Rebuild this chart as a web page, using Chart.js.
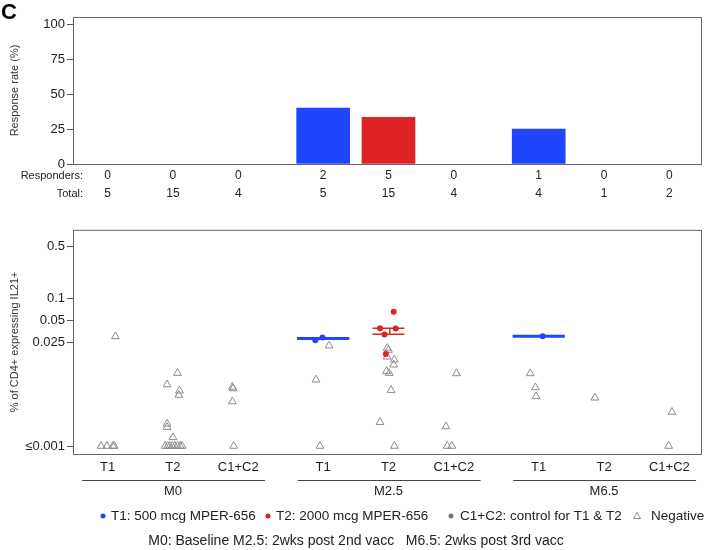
<!DOCTYPE html>
<html>
<head>
<meta charset="utf-8">
<script src="https://cdn.jsdelivr.net/npm/chart.js@4.4.0/dist/chart.umd.min.js"></script>
<style>
  body { margin: 0; background: #fff; }
  #wrap { position: relative; width: 720px; height: 550px; }
  canvas { position: absolute; left: 0; }
</style>
</head>
<body>
<div id="wrap">
  <canvas id="rateChart" width="720" height="220" style="top:0"></canvas>
  <canvas id="ilChart" width="720" height="330" style="top:220px"></canvas>
</div>
<script>
const groups = ["M0", "M2.5", "M6.5"];
const arms = ["T1", "T2", "C1+C2"];
const xPos = [0, 1, 2, 3.3, 4.3, 5.3, 6.6, 7.6, 8.6];
const responders = [0, 0, 0, 2, 5, 0, 1, 0, 0];
const totals = [5, 15, 4, 5, 15, 4, 4, 1, 2];
const responseRate = [0, 0, 0, 40, 33.3, 0, 25, 0, 0];
const rateTicks = [0, 25, 50, 75, 100];
const ilTicks = [0.001, 0.025, 0.05, 0.1, 0.5];
const ilTickLabels = ["≤0.001", "0.025", "0.05", "0.1", "0.5"];

// responders (filled dots) per column, with horizontal jitter
const posVals = [[], [], [], [0.027, 0.0295], [0.0656, 0.0392, 0.0389, 0.0323, 0.0176], [], [0.0307], [], []];
const posJit = [[], [], [], [-0.12, -0.01], [0.08, -0.13, 0.11, -0.06, -0.04], [], [0.06], [], []];

// negatives (open triangles) per column
const negVals = [
  [0.001, 0.001, 0.001, 0.001, 0.0304],
  [0.0097, 0.0068, 0.0056, 0.0049, 0.002, 0.0018, 0.00131, 0.001, 0.001, 0.001, 0.001, 0.001, 0.001, 0.001, 0.001],
  [0.0063, 0.006, 0.004, 0.001],
  [0.0228, 0.0079, 0.001],
  [0.0212, 0.0199, 0.0161, 0.0147, 0.0126, 0.0103, 0.0097, 0.0057, 0.0021, 0.001],
  [0.0096, 0.00184, 0.001, 0.001],
  [0.0096, 0.0062, 0.0047],
  [0.0045],
  [0.00289, 0.001]
];
const negJit = [
  [-0.1, -0.01, 0.08, 0.1, 0.12],
  [0.07, -0.09, 0.1, 0.09, -0.09, -0.09, 0, -0.12, -0.08, -0.05, -0.01, 0.03, 0.07, 0.11, 0.14],
  [-0.09, -0.08, -0.09, -0.07],
  [0.09, -0.11, -0.05],
  [-0.02, 0, -0.02, 0.09, 0.08, -0.03, 0.01, 0.04, -0.13, 0.09],
  [0.04, -0.12, -0.1, -0.03],
  [-0.13, -0.05, -0.04],
  [-0.14],
  [0.04, -0.01]
];

// summary lines over the responders
const blueMedCols = [3, 6];
const blueMedVals = [0.0285, 0.0307];
const redCol = 4;
const redLineVals = [0.0392, 0.0325];

const BLUE = "#1f46fd";
const RED = "#dd2323";
const GREY = "#777777";
const armColors = [BLUE, RED, GREY];
const FONT = "'Liberation Sans', Arial, Helvetica, sans-serif";
Chart.defaults.font.family = FONT;
Chart.defaults.color = "#222";

const xMin = -0.53, xMax = 9.1;

function drawBox(chart) {
  const a = chart.chartArea, ctx = chart.ctx;
  ctx.save();
  ctx.strokeStyle = "#666";
  ctx.lineWidth = 1;
  ctx.strokeRect(a.left + 0.5, a.top + 0.5, a.right - a.left - 1, a.bottom - a.top);
  ctx.restore();
}

const topExtras = {
  id: "topExtras",
  afterDraw(chart) {
    const ctx = chart.ctx, x = chart.scales.x;
    drawBox(chart);
    ctx.save();
    ctx.fillStyle = "#000";
    ctx.font = "bold 22px " + FONT;
    ctx.textBaseline = "alphabetic";
    ctx.fillText("C", 1, 19);
    ctx.fillStyle = "#222";
    ctx.textBaseline = "middle";
    ctx.textAlign = "right";
    ctx.font = "11px " + FONT;
    ctx.fillText("Responders:", 83, 176);
    ctx.fillText("Total:", 83, 194);
    ctx.textAlign = "center";
    ctx.font = "12px " + FONT;
    xPos.forEach((p, i) => {
      const px = x.getPixelForValue(p);
      ctx.fillText(String(responders[i]), px, 176);
      ctx.fillText(String(totals[i]), px, 194);
    });
    ctx.restore();
  }
};

const bottomExtras = {
  id: "bottomExtras",
  afterDraw(chart) {
    const ctx = chart.ctx, x = chart.scales.x;
    drawBox(chart);
    ctx.save();
    ctx.fillStyle = "#222";
    ctx.textBaseline = "middle";
    ctx.textAlign = "center";
    ctx.font = "13px " + FONT;
    xPos.forEach((p, i) => {
      ctx.fillText(arms[i % 3], x.getPixelForValue(p), 247);
    });
    ctx.strokeStyle = "#444";
    ctx.lineWidth = 1;
    groups.forEach((g, k) => {
      const l = x.getPixelForValue(xPos[k * 3] - 0.39);
      const r = x.getPixelForValue(xPos[k * 3 + 2] + 0.41);
      ctx.beginPath();
      ctx.moveTo(l, 260.5);
      ctx.lineTo(r, 260.5);
      ctx.stroke();
      ctx.fillText(g, x.getPixelForValue(xPos[k * 3 + 1]), 271);
    });

    // legend
    const legendItems = [
      { label: "T1: 500 mcg MPER-656", color: BLUE, mx: 103, tx: 111 },
      { label: "T2: 2000 mcg MPER-656", color: RED, mx: 268, tx: 276 },
      { label: "C1+C2: control for T1 & T2", color: GREY, mx: 451, tx: 460 },
      { label: "Negative", color: null, mx: 637, tx: 651 }
    ];
    ctx.textAlign = "left";
    ctx.font = "13.5px " + FONT;
    legendItems.forEach(it => {
      if (it.color) {
        ctx.fillStyle = it.color;
        ctx.beginPath();
        ctx.arc(it.mx, 296, 2.5, 0, Math.PI * 2);
        ctx.fill();
      } else {
        ctx.strokeStyle = "#8c8c8c";
        ctx.beginPath();
        ctx.moveTo(it.mx, 292.5);
        ctx.lineTo(it.mx + 3.5, 298.5);
        ctx.lineTo(it.mx - 3.5, 298.5);
        ctx.closePath();
        ctx.stroke();
      }
      ctx.fillStyle = "#222";
      ctx.fillText(it.label, it.tx, 296);
    });

    ctx.textAlign = "center";
    ctx.font = "14px " + FONT;
    ctx.fillText("M0: Baseline M2.5: 2wks post 2nd vacc   M6.5: 2wks post 3rd vacc", 356, 321);
    ctx.restore();
  }
};

// top: response rate bars (zero-rate columns draw no bar)
new Chart(document.getElementById("rateChart"), {
  type: "bar",
  data: {
    datasets: [{
      data: xPos.map((p, i) => ({ x: p, y: responseRate[i] || null })),
      backgroundColor: xPos.map((p, i) => armColors[i % 3]),
      borderWidth: 0,
      barThickness: 53
    }]
  },
  options: {
    responsive: false,
    animation: false,
    layout: { padding: { left: 0, right: 18, top: 17, bottom: 56 } },
    plugins: { legend: { display: false }, tooltip: { enabled: false } },
    scales: {
      x: { type: "linear", min: xMin, max: xMax, offset: false, display: false },
      y: {
        min: 0,
        max: 105,
        afterBuildTicks: s => { s.ticks = rateTicks.map(v => ({ value: v })); },
        afterFit: s => { s.width = 73; },
        grid: { drawOnChartArea: false, tickLength: 6, color: "#555" },
        border: { display: false },
        ticks: { font: { size: 13 }, color: "#222", padding: 2 },
        title: {
          display: true,
          text: "Response rate (%)",
          font: { size: 11 },
          color: "#333",
          padding: { top: 8, bottom: 0 }
        }
      }
    }
  },
  plugins: [topExtras]
});

// bottom: individual responses
const negPoints = [];
negVals.forEach((vals, c) => vals.forEach((v, j) => negPoints.push({ x: xPos[c] + negJit[c][j], y: v })));
const bluePoints = [];
const redPoints = [];
posVals.forEach((vals, c) => vals.forEach((v, j) => {
  const pt = { x: xPos[c] + posJit[c][j], y: v };
  if (c % 3 === 0) bluePoints.push(pt); else redPoints.push(pt);
}));

const lineSets = [];
blueMedCols.forEach((c, k) => {
  lineSets.push({
    type: "line",
    data: [{ x: xPos[c] - 0.4, y: blueMedVals[k] }, { x: xPos[c] + 0.4, y: blueMedVals[k] }],
    borderColor: BLUE, borderWidth: 3, pointRadius: 0, order: 2
  });
});
redLineVals.forEach(v => {
  lineSets.push({
    type: "line",
    data: [{ x: xPos[redCol] - 0.245, y: v }, { x: xPos[redCol] + 0.245, y: v }],
    borderColor: RED, borderWidth: 1.5, pointRadius: 0, order: 2
  });
});
lineSets.push({
  type: "line",
  data: [{ x: xPos[redCol] + 0.02, y: redLineVals[0] }, { x: xPos[redCol] + 0.02, y: redLineVals[1] }],
  borderColor: RED, borderWidth: 1.5, pointRadius: 0, order: 2
});

new Chart(document.getElementById("ilChart"), {
  type: "scatter",
  data: {
    datasets: [
      {
        data: negPoints, pointStyle: "triangle", pointRadius: 4.5,
        borderColor: "#8c8c8c", backgroundColor: "rgba(255,255,255,0)", borderWidth: 1, order: 3
      },
      ...lineSets,
      { data: bluePoints, pointRadius: 3, backgroundColor: BLUE, borderWidth: 0, order: 1 },
      { data: redPoints, pointRadius: 3, backgroundColor: RED, borderWidth: 0, order: 1 }
    ]
  },
  options: {
    responsive: false,
    animation: false,
    layout: { padding: { left: 0, right: 18, top: 7, bottom: 96 } },
    plugins: { legend: { display: false }, tooltip: { enabled: false } },
    scales: {
      x: { type: "linear", min: xMin, max: xMax, display: false },
      y: {
        type: "logarithmic",
        min: 0.00078,
        max: 0.844,
        afterBuildTicks: s => { s.ticks = ilTicks.map(v => ({ value: v })); },
        afterFit: s => { s.width = 73; },
        grid: { drawOnChartArea: false, tickLength: 6, color: "#555" },
        border: { display: false },
        ticks: {
          font: { size: 13 },
          color: "#222",
          padding: 2,
          callback: v => ilTickLabels[ilTicks.indexOf(v)]
        },
        title: {
          display: true,
          text: "% of CD4+ expressing IL21+",
          font: { size: 11 },
          color: "#333",
          padding: { top: 8, bottom: 0 }
        }
      }
    }
  },
  plugins: [bottomExtras]
});
</script>
</body>
</html>
